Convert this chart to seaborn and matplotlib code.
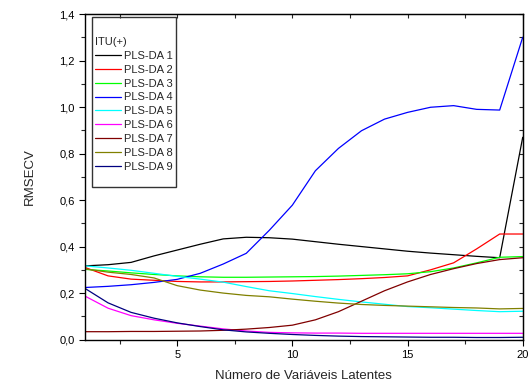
import matplotlib.pyplot as plt
import pandas as pd
import seaborn as sns
from matplotlib.patches import Rectangle
from matplotlib.ticker import MultipleLocator, FuncFormatter

# dados (RMSECV x número de variáveis latentes)
variaveis = list(range(1, 21))
pls_da_1 = [0.317, 0.322, 0.332, 0.360, 0.385, 0.410, 0.433, 0.440, 0.438, 0.432,
            0.421, 0.410, 0.400, 0.390, 0.380, 0.372, 0.365, 0.358, 0.352, 0.870]
pls_da_2 = [0.310, 0.274, 0.260, 0.255, 0.250, 0.248, 0.248, 0.249, 0.250, 0.252,
            0.255, 0.258, 0.262, 0.267, 0.274, 0.300, 0.330, 0.390, 0.454, 0.454]
pls_da_3 = [0.302, 0.295, 0.287, 0.280, 0.274, 0.270, 0.268, 0.268, 0.269, 0.270,
            0.271, 0.273, 0.276, 0.279, 0.283, 0.292, 0.308, 0.330, 0.354, 0.357]
pls_da_4 = [0.224, 0.229, 0.236, 0.246, 0.259, 0.285, 0.325, 0.371, 0.470, 0.578,
            0.726, 0.822, 0.898, 0.948, 0.977, 0.999, 1.006, 0.990, 0.987, 1.300]
pls_da_5 = [0.317, 0.308, 0.298, 0.285, 0.272, 0.260, 0.247, 0.228, 0.210, 0.198,
            0.185, 0.173, 0.162, 0.152, 0.142, 0.137, 0.131, 0.125, 0.120, 0.122]
pls_da_6 = [0.187, 0.135, 0.103, 0.085, 0.070, 0.058, 0.046, 0.037, 0.031, 0.029,
            0.028, 0.028, 0.027, 0.027, 0.027, 0.027, 0.027, 0.027, 0.027, 0.027]
pls_da_7 = [0.034, 0.034, 0.035, 0.035, 0.036, 0.037, 0.040, 0.045, 0.052, 0.062,
            0.085, 0.120, 0.165, 0.210, 0.248, 0.280, 0.305, 0.327, 0.344, 0.352]
pls_da_8 = [0.304, 0.290, 0.280, 0.265, 0.232, 0.213, 0.200, 0.190, 0.184, 0.174,
            0.165, 0.157, 0.151, 0.147, 0.144, 0.141, 0.138, 0.136, 0.132, 0.134]
pls_da_9 = [0.220, 0.158, 0.117, 0.092, 0.072, 0.056, 0.042, 0.033, 0.027, 0.022,
            0.018, 0.015, 0.013, 0.012, 0.011, 0.010, 0.010, 0.009, 0.009, 0.010]

modelos = ['PLS-DA 1', 'PLS-DA 2', 'PLS-DA 3', 'PLS-DA 4', 'PLS-DA 5',
           'PLS-DA 6', 'PLS-DA 7', 'PLS-DA 8', 'PLS-DA 9']
cores = ['#000000', '#ff0000', '#00ff00', '#0000ff', '#00ffff',
         '#ff00ff', '#800000', '#808000', '#000080']
series = [pls_da_1, pls_da_2, pls_da_3, pls_da_4, pls_da_5,
          pls_da_6, pls_da_7, pls_da_8, pls_da_9]

linhas = []
for nome, valores in zip(modelos, series):
    for lv, v in zip(variaveis, valores):
        linhas.append({'lv': lv, 'rmsecv': v, 'modelo': nome})
df = pd.DataFrame(linhas)

sns.set_style('ticks')
plt.rcParams['font.family'] = ['Liberation Sans', 'DejaVu Sans']

fig, ax = plt.subplots(figsize=(5.28, 3.89), dpi=100)
fig.subplots_adjust(left=0.161, right=0.99, top=0.964, bottom=0.127)

sns.lineplot(data=df, x='lv', y='rmsecv', hue='modelo', hue_order=modelos,
             palette=cores, linewidth=0.9, ax=ax)

ax.set_xlim(1, 20)
ax.set_ylim(0, 1.4)
ax.xaxis.set_major_locator(MultipleLocator(5))
ax.xaxis.set_minor_locator(MultipleLocator(2.5))
ax.yaxis.set_major_locator(MultipleLocator(0.2))
ax.yaxis.set_minor_locator(MultipleLocator(0.1))
ax.yaxis.set_major_formatter(FuncFormatter(lambda v, p: f'{v:.1f}'.replace('.', ',')))
ax.tick_params(which='major', direction='out', length=4, width=0.8, labelsize=8, colors='black')
ax.tick_params(which='minor', direction='out', length=3, width=0.8)

# eixos espelhados (topo e direita) com ticks para dentro
topo = ax.secondary_xaxis('top')
topo.set_xticks([2.5, 5, 7.5, 10, 12.5, 15, 17.5, 20])
topo.tick_params(direction='in', length=3, width=0.8, labeltop=False)
direita = ax.secondary_yaxis('right')
direita.set_yticks([i / 10 for i in range(15)])
direita.tick_params(direction='in', length=3, width=0.8, labelright=False)

for s in ax.spines.values():
    s.set_color('black')
    s.set_linewidth(1.0)

ax.set_xlabel('Número de Variáveis Latentes', fontsize=9.5, labelpad=7)
ax.set_ylabel('RMSECV', fontsize=9.5, labelpad=17)

# legenda
handles, labels = ax.get_legend_handles_labels()
ax.legend(handles, labels, title='ITU(+)', title_fontsize=8, fontsize=8,
          loc='upper left', bbox_to_anchor=(0.0155, 0.94), borderaxespad=0,
          borderpad=0.3, frameon=False, alignment='left', handlelength=2.3,
          handletextpad=0.33, labelspacing=0.35)
ax.add_patch(Rectangle((0.0155, 0.4676), 0.1935, 0.5224, transform=ax.transAxes,
                       fill=False, edgecolor='#333333', linewidth=1.0, zorder=5))

plt.savefig('out.png', dpi=100)
